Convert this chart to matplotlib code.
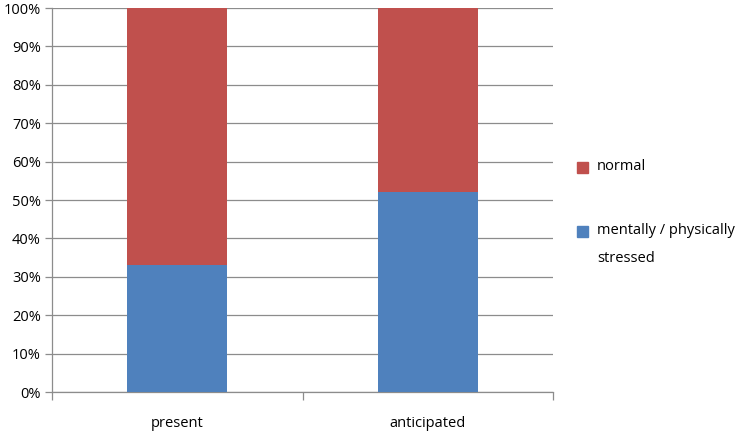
import matplotlib
matplotlib.use("Agg")
import matplotlib.pyplot as plt
from matplotlib.patches import Rectangle
from matplotlib.ticker import PercentFormatter, FixedLocator, NullFormatter

CATEGORIES = ["present", "anticipated"]
STRESSED = [33, 52]
NORMAL = [67, 48]
SERIES_LABELS = ["mentally / physically\nstressed", "normal"]

COLORS = {"stressed": "#4F81BD", "normal": "#C0504D"}
GRID = "#8C8C8C"

plt.rcParams["font.family"] = ["Open Sans", "DejaVu Sans"]
plt.rcParams["font.size"] = 10.5


def main():
    fig = plt.figure(figsize=(7.38, 4.33), dpi=100)
    ax = fig.add_axes([52 / 738, 41 / 433, (553 - 52) / 738, (392 - 8) / 433])

    x = [i + 0.5 for i in range(len(CATEGORIES))]
    ax.bar(x, STRESSED, width=0.4, color=COLORS["stressed"], zorder=3)
    ax.bar(x, NORMAL, width=0.4, bottom=STRESSED, color=COLORS["normal"], zorder=3)

    ax.set_xlim(0, len(CATEGORIES))
    ax.set_ylim(0, 100)
    ax.set_yticks(range(0, 101, 10))
    ax.yaxis.set_major_formatter(PercentFormatter(decimals=0))
    ax.grid(axis="y", color=GRID, linewidth=0.9, zorder=0)

    ax.set_xticks(x)
    ax.set_xticklabels(CATEGORIES)
    ax.tick_params(axis="x", which="major", length=0, pad=17)
    ax.xaxis.set_minor_locator(FixedLocator(range(len(CATEGORIES) + 1)))
    ax.xaxis.set_minor_formatter(NullFormatter())
    ax.tick_params(axis="x", which="minor", length=6, color=GRID, width=0.9)
    ax.tick_params(axis="y", length=5, color=GRID, width=0.9, pad=3)

    for side in ["top", "right"]:
        ax.spines[side].set_visible(False)
    for side in ["left", "bottom"]:
        ax.spines[side].set_color(GRID)
        ax.spines[side].set_linewidth(0.9)

    # legend drawn by hand to mimic the spreadsheet layout
    W, H = 738, 433
    legend_items = [
        (COLORS["normal"], "normal", 167),
        (COLORS["stressed"], "mentally / physically\nstressed", 231),
    ]
    for color, label, yc in legend_items:
        fig.patches.append(
            Rectangle((577 / W, 1 - (yc + 5.5) / H), 11 / W, 11 / H,
                      transform=fig.transFigure, color=color, figure=fig)
        )
        lines = label.split("\n")
        for j, line in enumerate(lines):
            fig.text(597 / W, 1 - (yc + 27 * j) / H, line, va="center", ha="left")

    fig.savefig("out.png", dpi=100)


if __name__ == "__main__":
    main()
